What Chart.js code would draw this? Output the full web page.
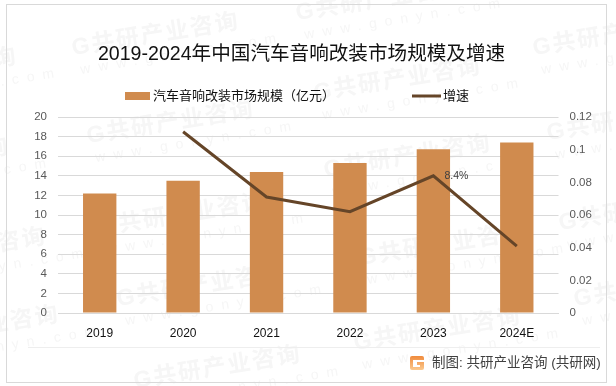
<!DOCTYPE html>
<html>
<head>
<meta charset="utf-8">
<style>
  html, body { margin: 0; padding: 0; background: #fff; }
  canvas { display: block; }
</style>
<script src="https://cdn.jsdelivr.net/npm/chart.js@4"></script>
</head>
<body>
<canvas id="grafico" width="616" height="386"></canvas>
<script>
// dados
const anos = ['2019', '2020', '2021', '2022', '2023', '2024E'];
const tamanhoMercado = [12.2, 13.5, 14.4, 15.3, 16.7, 17.4];
const crescimento = [null, 0.111, 0.071, 0.062, 0.084, 0.041];
const tituloGrafico = '2019-2024年中国汽车音响改装市场规模及增速';
const nomeBarras = '汽车音响改装市场规模（亿元）';
const nomeLinha = '增速';
const rodape = '制图: 共研产业咨询 (共研网)';

const fonte = '"Liberation Sans", "Noto Sans CJK SC", sans-serif';
const corBarra = '#d08b4e';
const corLinha = '#654528';

// marcas d'agua, moldura e rodape (atras das barras)
const fundoPlugin = {
  id: 'fundo',
  afterLayout(chart) {
    // o titulo no original nao fica centrado no canvas
    chart.titleBlock.right = 603;
  },
  beforeDraw(chart) {
    const ctx = chart.ctx;
    ctx.save();
    ctx.fillStyle = '#fff';
    ctx.fillRect(0, 0, 616, 386);

    const origens = [[73, 55], [297, 20], [534, 55], [88, 143], [315, 100], [548, 140],
      [100, 235], [325, 177], [360, 265], [118, 306], [355, 350], [575, 306], [135, 388],
      [-149, 90], [-157, 180], [-120, 270], [-107, 348], [560, 230]];
    origens.forEach(o => {
      ctx.save();
      ctx.translate(o[0], o[1]);
      ctx.rotate(-0.16);
      ctx.fillStyle = '#f6f6f6';
      ctx.font = 'bold 23px ' + fonte;
      ctx.letterSpacing = '2px';
      ctx.fillText('G共研产业咨询', 0, 0);
      ctx.font = '14px ' + fonte;
      ctx.letterSpacing = '8px';
      ctx.fillText('www.gonyn.com', 5, 20);
      ctx.restore();
    });
    ctx.letterSpacing = '0px';

    ctx.strokeStyle = '#d9d9d9';
    ctx.lineWidth = 1;
    ctx.strokeRect(6.5, 4.5, 600, 378);

    ctx.strokeStyle = '#eeeeee';
    ctx.beginPath();
    ctx.moveTo(28, 347.5);
    ctx.lineTo(600, 347.5);
    ctx.stroke();

    // logo
    const grad = ctx.createLinearGradient(0, 356, 0, 370);
    grad.addColorStop(0, '#f08a3c');
    grad.addColorStop(1, '#fbc98e');
    ctx.fillStyle = grad;
    ctx.beginPath();
    ctx.roundRect(410, 356, 14, 14, 2);
    ctx.fill();
    ctx.fillStyle = '#fff';
    ctx.fillRect(413, 360, 11, 2);
    ctx.fillRect(413, 362, 4, 5);
    ctx.fillRect(417, 365, 3, 2);

    ctx.fillStyle = '#404040';
    ctx.font = '13.5px ' + fonte;
    ctx.textAlign = 'left';
    ctx.textBaseline = 'middle';
    ctx.fillText(rodape, 432, 363);
    ctx.restore();
  }
};

// legenda e rotulo 8.4%
const textosPlugin = {
  id: 'textos',
  afterDraw(chart) {
    const ctx = chart.ctx;
    ctx.save();
    ctx.textBaseline = 'middle';
    ctx.textAlign = 'left';
    ctx.fillStyle = corBarra;
    ctx.fillRect(125, 92, 25, 8);
    ctx.fillStyle = '#111';
    ctx.font = '13px ' + fonte;
    ctx.fillText(chart.data.datasets[0].label, 153, 96);
    ctx.strokeStyle = corLinha;
    ctx.lineWidth = 3;
    ctx.beginPath();
    ctx.moveTo(412, 96);
    ctx.lineTo(441, 96);
    ctx.stroke();
    ctx.fillText(chart.data.datasets[1].label, 443, 96);

    const ponto = chart.getDatasetMeta(1).data[4];
    ctx.fillStyle = '#404040';
    ctx.font = '10.5px ' + fonte;
    ctx.fillText((crescimento[4] * 100).toFixed(1) + '%', ponto.x + 11, ponto.y);
    ctx.restore();
  }
};

const ctx = document.getElementById('grafico').getContext('2d');
new Chart(ctx, {
  data: {
    labels: anos,
    datasets: [
      {
        type: 'bar',
        label: nomeBarras,
        data: tamanhoMercado,
        yAxisID: 'y',
        backgroundColor: corBarra,
        barPercentage: 0.4,
        categoryPercentage: 1,
        order: 2
      },
      {
        type: 'line',
        label: nomeLinha,
        data: crescimento,
        yAxisID: 'y2',
        borderColor: corLinha,
        borderWidth: 3,
        pointRadius: 0,
        tension: 0,
        order: 1
      }
    ]
  },
  options: {
    responsive: false,
    animation: false,
    layout: { padding: 0 },
    plugins: {
      legend: { display: false },
      tooltip: { enabled: false },
      title: {
        display: true,
        text: tituloGrafico,
        color: '#111',
        font: { family: fonte, size: 19.6, weight: 'normal', lineHeight: 1.2 },
        padding: { top: 43, bottom: 50.5 }
      }
    },
    scales: {
      x: {
        grid: { display: false },
        border: { color: '#d9d9d9' },
        ticks: { color: '#111', font: { family: fonte, size: 12 }, padding: 5, maxRotation: 0 },
        afterFit(s) { s.height = 73; }
      },
      y: {
        position: 'left',
        min: 0,
        max: 20,
        grid: { color: '#d9d9d9', drawTicks: false },
        border: { display: false },
        ticks: { stepSize: 2, color: '#595959', font: { family: fonte, size: 11.5 }, padding: 11 },
        afterFit(s) { s.width = 58; }
      },
      y2: {
        position: 'right',
        min: 0,
        max: 0.12,
        grid: { display: false, drawTicks: false },
        border: { display: false },
        ticks: {
          stepSize: 0.02,
          color: '#595959',
          font: { family: fonte, size: 11.5 },
          padding: 11,
          callback: v => String(+v.toFixed(2))
        },
        afterFit(s) { s.width = 57.5; }
      }
    }
  },
  plugins: [fundoPlugin, textosPlugin]
});
</script>
</body>
</html>
